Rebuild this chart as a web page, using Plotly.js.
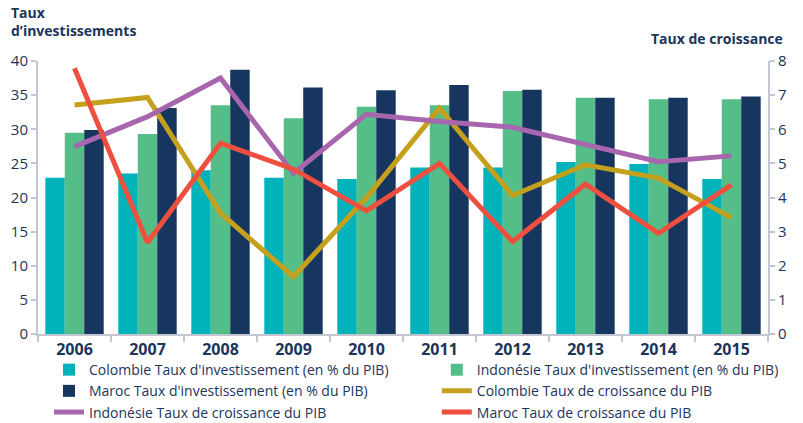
<!DOCTYPE html>
<html><head><meta charset="utf-8">
<script src="https://cdn.plot.ly/plotly-3.0.1.min.js"></script>
<style>html,body{margin:0;padding:0;background:#fff}#chart{width:803px;height:423px}</style>
</head><body><div id="chart"></div>
<script>
const years = ["2006","2007","2008","2009","2010","2011","2012","2013","2014","2015"];
const colombieInv = [22.9,23.5,24.0,22.9,22.7,24.4,24.4,25.2,24.9,22.7];
const indonesieInv = [29.5,29.3,33.5,31.6,33.3,33.5,35.6,34.6,34.4,34.4];
const marocInv = [29.9,33.1,38.7,36.1,35.7,36.5,35.8,34.6,34.6,34.8];
const colombieCroiss = [6.71,6.93,3.54,1.68,4.0,6.62,4.06,4.96,4.57,3.41];
const indonesieCroiss = [5.49,6.37,7.50,4.71,6.44,6.23,6.06,5.54,5.05,5.22];
const marocCroiss = [7.79,2.68,5.59,4.83,3.61,5.0,2.71,4.39,2.95,4.37];

const names = [
  "Colombie Taux d'investissement (en % du PIB)",
  "Indonésie Taux d'investissement (en % du PIB)",
  "Maroc Taux d'investissement (en % du PIB)",
  "Colombie Taux de croissance du PIB",
  "Indonésie Taux de croissance du PIB",
  "Maroc Taux de croissance du PIB"
];
const navy = "#1b355b";
const font = "Open Sans, Lato, sans-serif";

const traces = [
  {type:"bar", x:years, y:colombieInv, name:names[0], legend:"legend", legendrank:1, marker:{color:"#00b3ba"}},
  {type:"bar", x:years, y:indonesieInv, name:names[1], legend:"legend2", legendrank:1, marker:{color:"#55bd88"}},
  {type:"bar", x:years, y:marocInv, name:names[2], legend:"legend", legendrank:2, marker:{color:"#16365f"}},
  {type:"scatter", mode:"lines", x:years, y:colombieCroiss, name:names[3], legend:"legend2", legendrank:2, yaxis:"y2", line:{color:"#c5a01c", width:5}},
  {type:"scatter", mode:"lines", x:years, y:indonesieCroiss, name:names[4], legend:"legend", legendrank:3, yaxis:"y2", line:{color:"#a766ad", width:5}},
  {type:"scatter", mode:"lines", x:years, y:marocCroiss, name:names[5], legend:"legend2", legendrank:3, yaxis:"y2", line:{color:"#ef4f3f", width:5}}
];

const legendBase = {orientation:"v", xref:"container", yref:"container", xanchor:"left", y:0.163, yanchor:"top",
  tracegroupgap:0, font:{family:font, size:14, color:navy}, itemwidth:30, bgcolor:"rgba(0,0,0,0)"};

const layout = {
  width:803, height:423,
  margin:{l:38, r:35, t:61, b:89, autoexpand:false},
  paper_bgcolor:"#fff", plot_bgcolor:"#fff",
  font:{family:font, color:navy, size:14},
  barmode:"group", bargap:0.2, bargroupgap:0,
  showlegend:true,
  legend:Object.assign({}, legendBase, {x:0.061}),
  legend2:Object.assign({}, legendBase, {x:0.544}),
  xaxis:{type:"category", range:[-0.5,9.5], showline:true, linecolor:"#c3c7d3", linewidth:2,
         ticks:"outside", tickson:"boundaries", ticklen:6, tickcolor:"#c3c7d3", tickwidth:2,
         tickfont:{family:font, size:16, color:navy, weight:"bold"}, showgrid:false, zeroline:false},
  yaxis:{range:[0,40], dtick:5, showline:true, linecolor:"#c3c7d3", linewidth:2,
         ticks:"outside", ticklen:5, tickcolor:"#c3c7d3", tickwidth:2,
         tickfont:{family:font, size:15, color:navy}, showgrid:false, zeroline:false},
  yaxis2:{range:[0,8], dtick:1, overlaying:"y", side:"right", showline:true, linecolor:"#c3c7d3", linewidth:2,
          ticks:"outside", ticklen:5, tickcolor:"#c3c7d3", tickwidth:2,
          tickfont:{family:font, size:15, color:navy}, showgrid:false, zeroline:false},
  annotations:[
    {xref:"paper", yref:"paper", x:-0.04, y:1.07, xanchor:"left", yanchor:"bottom", align:"left", showarrow:false,
     text:"<b>Taux<br>d’investissements</b>", font:{family:font, size:14, color:navy}},
    {xref:"paper", yref:"paper", x:1.023, y:1.084, xanchor:"right", yanchor:"middle", align:"right", showarrow:false,
     text:"<b>Taux de croissance</b>", font:{family:font, size:14, color:navy}}
  ]
};
Plotly.newPlot("chart", traces, layout, {displayModeBar:false, staticPlot:true});
</script></body></html>
